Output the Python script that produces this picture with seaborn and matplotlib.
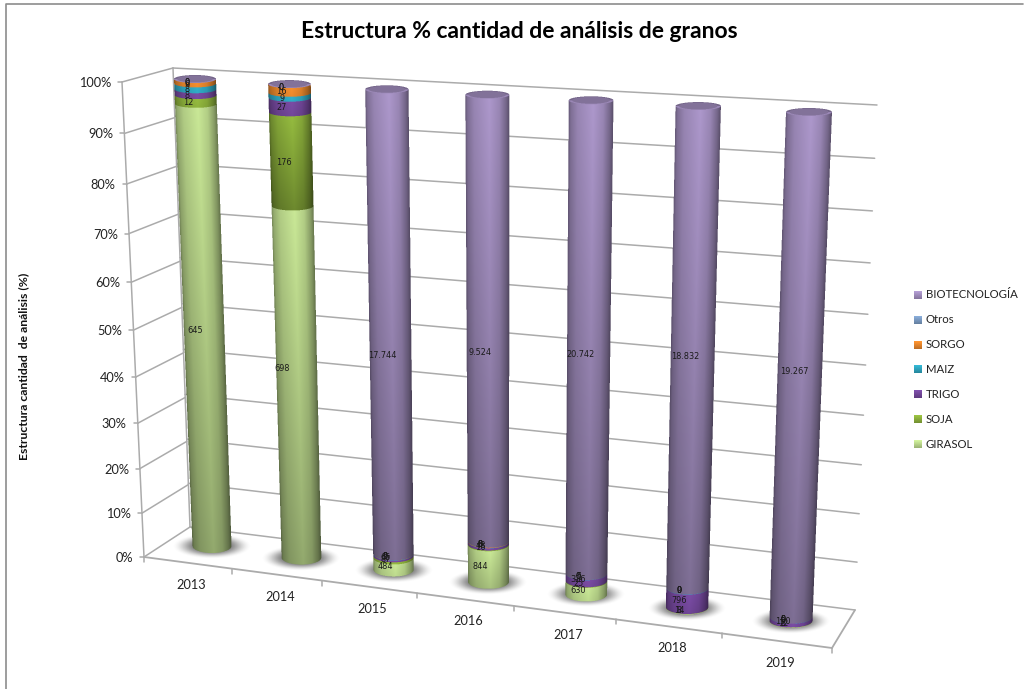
import numpy as np
import pandas as pd
import matplotlib
matplotlib.use("Agg")
import matplotlib.pyplot as plt
import seaborn as sns

anios = ["2013", "2014", "2015", "2016", "2017", "2018", "2019"]
series = ["GIRASOL", "SOJA", "TRIGO", "MAIZ", "SORGO", "Otros", "BIOTECNOLOGÍA"]

girasol = [645, 698, 484, 844, 630, 14, 12]
soja = [12, 176, 87, 16, 25, 8, 8]
trigo = [8, 27, 65, 48, 326, 796, 150]
maiz = [8, 9, 9, 5, 5, 9, 5]
sorgo = [6, 16, 5, 8, 0, 0, 0]
otros = [0, 0, 0, 0, 0, 0, 0]
biotec = [0, 0, 17744, 9524, 20742, 18832, 19267]

colores = ["#BEDB8E", "#8DB13C", "#74489C", "#2FA6C0", "#E8872C", "#7C9CC4", "#A38FC0"]
paleta = sns.color_palette(colores)

# Excel put the biggest label of each bar off its segment centre
ajuste_dx = [-1, -7, 0, 0, 0, 0, 2]
ajuste_dy = [-3, -20, 25, 26, 8, 0, -4]

sns.set_theme(style="white")
plt.rcParams["font.family"] = ["Lato", "DejaVu Sans"]

df = pd.DataFrame(dict(zip(series, [girasol, soja, trigo, maiz, sorgo, otros, biotec])), index=anios)
pct = df.div(df.sum(axis=1), axis=0) * 100
acum = pct.cumsum(axis=1)

# seaborn builds the stack on a plain 0-100 axis, the patches are then projected
ax_stack = plt.figure().add_subplot()
for s in series[::-1]:
    sns.barplot(x=anios, y=acum[s].values, ax=ax_stack, width=0.5, color="gray")
ax_stack.set_ylim(0, 100)
tapas = np.array([[b.get_height() for b in c] for c in ax_stack.containers[::-1]])
base_x = np.array([b.get_x() + b.get_width() / 2 for b in ax_stack.containers[0]])
plt.close(ax_stack.figure)


def homografia(esquinas):
    # corners in order (0,0), (1,0), (0,1), (1,1)
    filas, lado = [], []
    for (u, v), (x, y) in zip([(0, 0), (1, 0), (0, 1), (1, 1)], esquinas):
        filas.append([u, v, 1, 0, 0, 0, -u * x, -v * x])
        filas.append([0, 0, 0, u, v, 1, -u * y, -v * y])
        lado += [x, y]
    return np.append(np.linalg.solve(np.array(filas, float), np.array(lado, float)), 1).reshape(3, 3)


def proyecta(H, u, v):
    u, v = np.asarray(u, float), np.asarray(v, float)
    d = H[2, 0] * u + H[2, 1] * v + H[2, 2]
    return (H[0, 0] * u + H[0, 1] * v + H[0, 2]) / d, (H[1, 0] * u + H[1, 1] * v + H[1, 2]) / d


H_fondo = homografia([(190, 527), (855, 610), (173, 68), (877, 105)])
H_lado = homografia([(144, 557), (190, 527), (122, 82), (173, 68)])
H_piso = homografia([(144, 557), (832, 648), (190, 527), (855, 610)])
H_barras = homografia([(212, 546), (791, 621), (195, 79), (809, 112)])

fig = plt.figure(figsize=(10.24, 6.89), dpi=100)
ax = fig.add_axes([0, 0, 1, 1])
ax.axis("off")
gris = "#ABABAB"

# frame of the chart
ax.plot([6, 6, 1023], [689, 4, 4], color="#8C8C8C", lw=1.2)

# walls and floor
for p in np.arange(0, 101, 10):
    v = p / 100
    xl, yl = proyecta(H_lado, [0, 1], [v, v])
    xb, yb = proyecta(H_fondo, [0, 1], [v, v])
    ax.plot(xl, yl, color=gris, lw=1.1)
    ax.plot(xb, yb, color=gris, lw=1.1)
    ax.plot([xl[0] - 4, xl[0]], [yl[0], yl[0]], color=gris, lw=1.1)
    ax.text(xl[0] - 11, yl[0] + 1, f"{p}%", ha="right", va="center", fontsize=9.2, color="#222222")
vu = np.array([0, 1])
ax.plot(*proyecta(H_lado, [0, 0], vu), color=gris, lw=1.1)
ax.plot(*proyecta(H_fondo, [0, 0], vu), color=gris, lw=1.1)
ax.plot(*proyecta(H_piso, [0, 1], [0, 0]), color=gris, lw=1.3)
ax.plot(*proyecta(H_piso, [1, 1], [0, 1]), color=gris, lw=1.3)
for i in range(8):
    xt, yt = proyecta(H_piso, i / 7, 0)
    ax.plot([xt, xt], [yt, yt + 5], color=gris, lw=1.1)
for i, a in enumerate(anios):
    xt, yt = proyecta(H_piso, (i + 0.5) / 7, 0)
    ax.text(xt + 3.5, yt + 22, a, ha="center", va="center", fontsize=9.2, color="#222222")

# position of each bar on the chart width
u_barra = (base_x - base_x[0]) / (base_x[-1] - base_x[0])

# floor shadows, fading to nothing before the edge of the image
sx, sy = np.meshgrid(np.linspace(-1, 1, 120), np.linspace(-1, 1, 60))
r = np.clip((np.sqrt(sx**2 + sy**2) - 0.3) / 0.7, 0, 1)
sombra = np.zeros(sx.shape + (4,))
sombra[..., 3] = 0.82 * (1 - r**2 * (3 - 2 * r))
sombra[..., :3] = 0.3
for u in u_barra:
    xs, ys = proyecta(H_barras, u, 0)
    ax.imshow(sombra, extent=[xs - 40, xs + 40, ys + 13, ys - 13], aspect="auto",
              interpolation="bilinear", zorder=2)

perfil_s = [-1, -0.9, -0.6, 0.1, 0.55, 0.85, 1]
perfil_f = [0.62, 0.78, 0.93, 1.06, 0.94, 0.72, 0.55]


def radio_x(u, v):
    return 19.5 + 2 * u + 1.5 * v


def radio_y(v):
    return 7 - 3 * v


def cilindro(u, cortes, z):
    # shade one whole bar pixel by pixel, 3x supersampled
    ss = 3
    vt = np.linspace(-0.06, 1.06, 1500)
    cxt, cyt = proyecta(H_barras, u, vt)
    x0 = int(cxt.min() - 30)
    x1 = int(cxt.max() + 30)
    y0 = int(proyecta(H_barras, u, 1.0)[1] - 10)
    y1 = int(proyecta(H_barras, u, 0.0)[1] + 12)
    xs = x0 + (np.arange((x1 - x0) * ss) + 0.5) / ss
    ys = y0 + (np.arange((y1 - y0) * ss) + 0.5) / ss
    X, Y = np.meshgrid(xs, ys)

    vy = np.interp(Y, cyt[::-1], vt[::-1])
    s = (X - np.interp(vy, vt, cxt)) / radio_x(u, vy)
    for _ in range(2):
        arco = radio_y(vy) * np.sqrt(np.clip(1 - s**2, 0, 1))
        v_s = np.interp(Y - arco, cyt[::-1], vt[::-1])
        s = (X - np.interp(v_s, vt, cxt)) / radio_x(u, v_s)
        vy = v_s
    dentro = (np.abs(s) <= 1) & (v_s >= 0) & (v_s <= cortes[-1])

    rgba = np.zeros(X.shape + (4,))
    hor = np.interp(s, perfil_s, perfil_f)
    for k in range(len(series)):
        v0, v1 = cortes[k], cortes[k + 1]
        if v1 - v0 < 1e-6:
            continue
        zona = dentro & (v_s >= v0) & (v_s <= v1)
        alto_px = abs(proyecta(H_barras, u, v1)[1] - proyecta(H_barras, u, v0)[1])
        t = (v1 - v_s) / (v1 - v0)
        ver = 1 - 0.27 * min(alto_px / 60, 1) * t
        col = np.array(paleta[k])
        rgba[zona, :3] = np.clip((hor * ver)[zona][:, None] * col, 0, 1)
        rgba[zona, 3] = 1

    # top cap, greyish purple over whatever series ends the bar
    cx1, cy1 = proyecta(H_barras, u, cortes[-1])
    e = ((X - cx1) / radio_x(u, 1.0))**2 + ((Y - cy1) / radio_y(1.0))**2
    tapa = np.array(paleta[-1])
    borde = (e <= 1) & (e > 0.72)
    rgba[e <= 1, :3] = tapa * 0.8
    rgba[borde & (Y >= cy1), :3] = np.clip(tapa * 0.95, 0, 1)
    rgba[borde & (Y < cy1), :3] = tapa * 0.72
    rgba[e <= 1, 3] = 1

    # back down to screen pixels
    h, w = Y.shape[0] // ss, X.shape[1] // ss
    a = rgba[..., 3].reshape(h, ss, w, ss)
    rgb = rgba[..., :3].reshape(h, ss, w, ss, 3)
    a_m = a.mean(axis=(1, 3))
    pre = (rgb * a[..., None]).mean(axis=(1, 3))
    salida = np.dstack([pre / np.maximum(a_m, 1e-6)[..., None], a_m])
    ax.imshow(np.clip(salida, 0, 1), extent=[x0, x1, y1, y0], aspect="auto",
              interpolation="nearest", zorder=z)


for i, u in enumerate(u_barra):
    cortes = np.concatenate([[0.0], tapas[:, i] / 100])
    cilindro(u, cortes, 3 + i)
    mayor = int(np.argmax(df.iloc[i].values))
    for k in range(len(series)):
        cx, cy = proyecta(H_barras, u, (cortes[k] + cortes[k + 1]) / 2)
        txt = f"{df.iloc[i, k]:,}".replace(",", ".")
        dx = ajuste_dx[i] if k == mayor else 0
        dy = ajuste_dy[i] if k == mayor else 0
        ax.text(cx - 8 + dx, cy + 3 + dy, txt, ha="center", va="center", fontsize=5.9,
                color="#1A1A1A", family="DejaVu Sans", zorder=20)

# title and axis title
ax.text(519, 31, "Estructura % cantidad de análisis de granos", ha="center", va="center",
        fontsize=16.5, fontweight="bold", color="black")
ax.text(24, 366, "Estructura cantidad  de análisis (%)", rotation=90, ha="center", va="center",
        fontsize=8.8, fontweight="bold", color="#111111")

# legend, top entry is the last series
for y, s, c in zip(np.linspace(295, 444, 7), series[::-1], paleta[::-1]):
    grad = np.linspace(1.12, 0.82, 12)[:, None, None] * np.array(c)[None, None, :]
    ax.imshow(np.clip(grad, 0, 1), extent=[914, 922, y + 4, y - 4], aspect="auto", zorder=3)
    ax.text(926, y, s, ha="left", va="center", fontsize=8.2, color="#222222")

ax.set_xlim(0, 1024)
ax.set_ylim(689, 0)
fig.savefig("out.png", dpi=100, facecolor="white")
